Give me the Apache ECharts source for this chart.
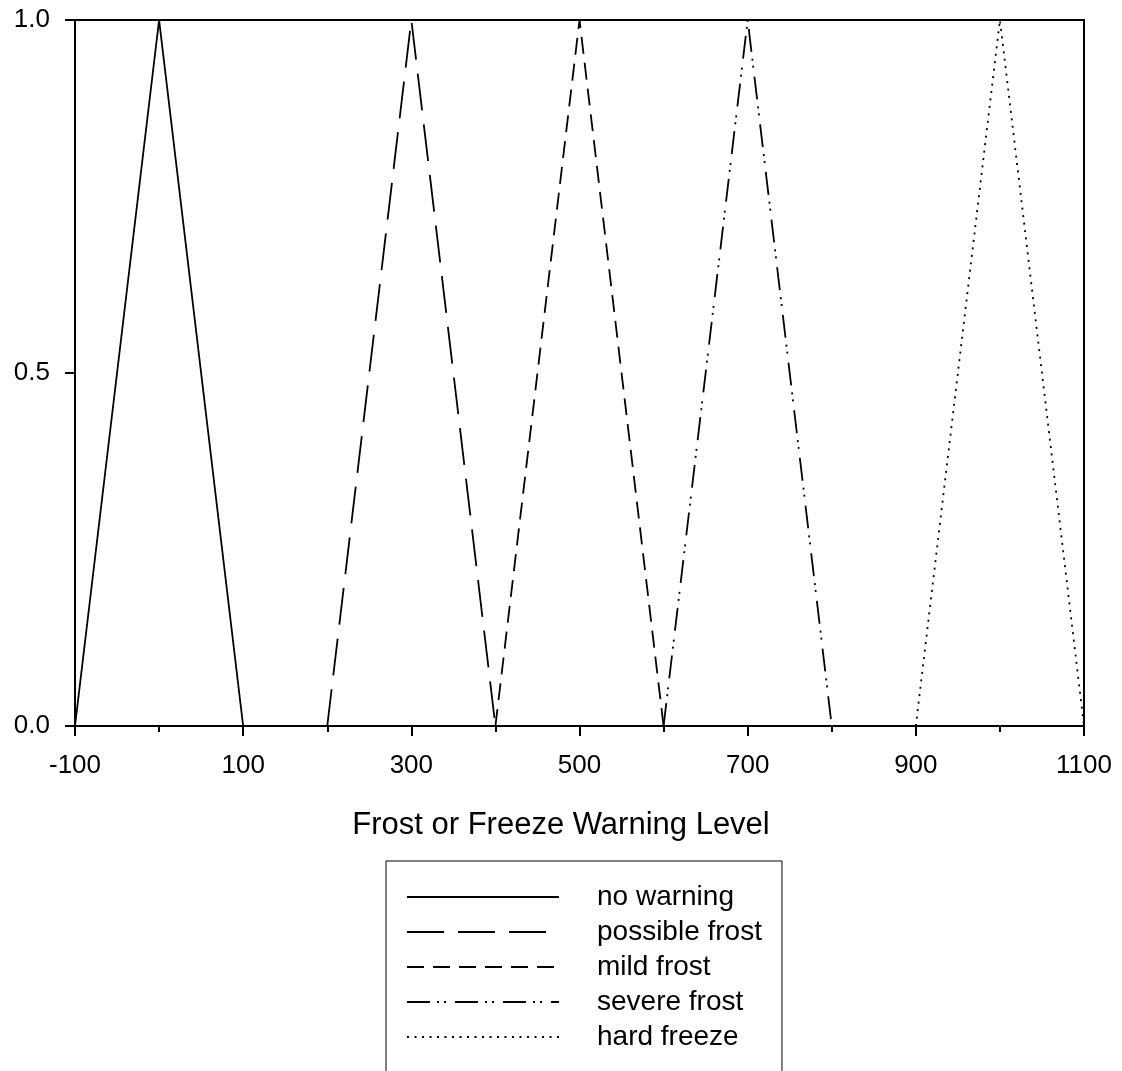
<!DOCTYPE html>
<html>
<head>
<meta charset="utf-8">
<script src="https://cdn.jsdelivr.net/npm/echarts@6/dist/echarts.min.js"></script>
<style>html,body{margin:0;padding:0;background:#fff}#c{width:1122px;height:1071px}</style>
</head>
<body>
<div id="c"></div>
<script>
const seriesNames = ['no warning', 'possible frost', 'mild frost', 'severe frost', 'hard freeze'];
const noWarning = [[-100, 0], [0, 1], [100, 0]];
const possibleFrost = [[200, 0], [300, 1], [400, 0]];
const mildFrost = [[400, 0], [500, 1], [600, 0]];
const severeFrost = [[600, 0], [700, 1], [800, 0]];
const hardFreeze = [[900, 0], [1000, 1], [1100, 0]];
const xTicks = [-100, 100, 300, 500, 700, 900, 1100];
const yTicks = [0, 0.5, 1];
const axisTitle = 'Frost or Freeze Warning Level';

const FONT = '"Liberation Sans", Arial, sans-serif';
const dashTypes = ['solid', [37, 14], [17, 9], [23, 7, 2, 5, 2, 9], [2, 5.5]];
const dataSets = [noWarning, possibleFrost, mildFrost, severeFrost, hardFreeze];

const chart = echarts.init(document.getElementById('c'), null, {renderer: 'canvas'});
chart.setOption({
  animation: false,
  backgroundColor: '#fff',
  title: {
    text: axisTitle,
    left: 'center',
    top: 805,
    textStyle: {fontFamily: FONT, fontSize: 31, fontWeight: 'normal', color: '#000'}
  },
  grid: {
    left: 75, right: 38, top: 20, bottom: 345,
    show: true, borderColor: '#000', borderWidth: 2, backgroundColor: 'transparent'
  },
  legend: {
    orient: 'vertical',
    left: 386, top: 861,
    height: 200,
    padding: [22, 20, 40, 20],
    borderColor: '#000', borderWidth: 1,
    itemWidth: 152, itemHeight: 14, itemGap: 7,
    itemStyle: {opacity: 0},
    data: seriesNames,
    textStyle: {fontFamily: FONT, fontSize: 28, color: '#000', lineHeight: 28, padding: [0, 0, 0, 33]}
  },
  xAxis: {
    type: 'value', min: -100, max: 1100, interval: 200,
    axisLine: {show: true, onZero: false, lineStyle: {color: '#000', width: 2}},
    axisTick: {show: true, inside: false, length: 10, lineStyle: {color: '#000', width: 2}},
    minorTick: {show: true, splitNumber: 2, length: 6, lineStyle: {color: '#000', width: 2}},
    splitLine: {show: false},
    axisLabel: {
      fontFamily: FONT, fontSize: 26, color: '#000', margin: 27,
      formatter: v => (xTicks.indexOf(v) >= 0 ? String(v) : '')
    }
  },
  yAxis: {
    type: 'value', min: 0, max: 1, interval: 0.5,
    axisLine: {show: true, onZero: false, lineStyle: {color: '#000', width: 2}},
    axisTick: {show: true, inside: false, length: 10, lineStyle: {color: '#000', width: 2}},
    splitLine: {show: false},
    axisLabel: {
      fontFamily: FONT, fontSize: 26, color: '#000', margin: 25,
      formatter: v => (yTicks.indexOf(v) >= 0 ? v.toFixed(1) : '')
    }
  },
  series: seriesNames.map((name, i) => ({
    name: name,
    type: 'line',
    data: dataSets[i],
    symbol: 'none',
    clip: false,
    lineStyle: {color: '#000', width: 1.8, type: dashTypes[i]},
    itemStyle: {color: '#000'}
  }))
});
</script>
</body>
</html>
